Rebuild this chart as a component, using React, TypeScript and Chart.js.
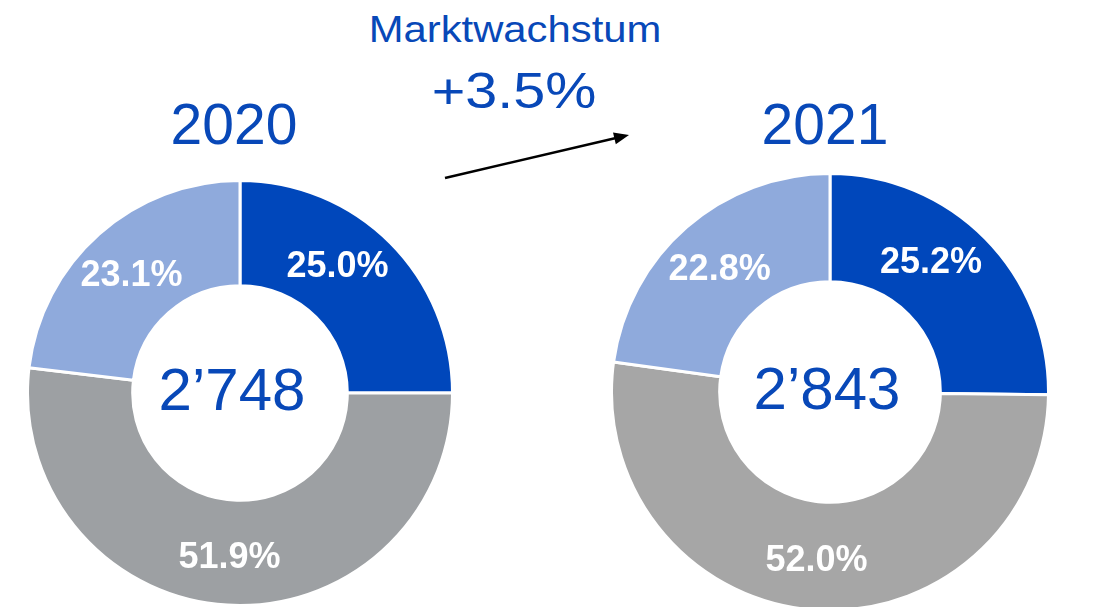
import React, { useEffect, useRef } from "react";
import { Chart, registerables } from "chart.js";

Chart.register(...registerables);

const segmentLabels = ["Segment A", "Segment B", "Segment C"];
const values2020 = [25.0, 51.9, 23.1];
const values2021 = [25.2, 52.0, 22.8];
const totals = ["2’748", "2’843"];
const years = ["2020", "2021"];
const growthTitle = "Marktwachstum";
const growthValue = "+3.5%";

const BLUE_TEXT = "#0848B8";
const FONT = "'Liberation Sans', Arial, Helvetica, sans-serif";

const labelPlugin = {
  id: "sliceLabels",
  afterDatasetsDraw(chart: any, _args: any, opts: any) {
    const ctx = chart.ctx;
    const meta = chart.getDatasetMeta(0);
    const data = chart.data.datasets[0].data as number[];
    ctx.save();
    meta.data.forEach((arc: any, i: number) => {
      const p = arc.getProps(["x", "y", "startAngle", "endAngle", "innerRadius", "outerRadius"], true);
      const shift = ((opts.angleShift?.[i] ?? 0) * Math.PI) / 180;
      const a = (p.startAngle + p.endAngle) / 2 + shift;
      const r = (p.innerRadius + p.outerRadius) / 2 + 2;
      const x = p.x + Math.cos(a) * r;
      const y = p.y + Math.sin(a) * r;
      ctx.fillStyle = "#ffffff";
      ctx.font = `bold 36px ${FONT}`;
      ctx.textAlign = "center";
      ctx.textBaseline = "alphabetic";
      ctx.fillText(data[i].toFixed(1) + "%", x, y + 13);
    });
    const arc0 = meta.data[0] as any;
    if (arc0) {
      ctx.fillStyle = BLUE_TEXT;
      ctx.font = `60px ${FONT}`;
      ctx.textAlign = "center";
      ctx.fillText(opts.centerText, arc0.x + (opts.centerDx ?? 0), arc0.y + 17);
    }
    ctx.restore();
  },
};

function Donut(props: {
  values: number[];
  colors: string[];
  centerText: string;
  centerDx: number;
  left: number;
  top: number;
  size: number;
}) {
  const ref = useRef<HTMLCanvasElement>(null);
  useEffect(() => {
    if (!ref.current) return;
    const chart = new Chart(ref.current, {
      type: "doughnut",
      data: {
        labels: segmentLabels,
        datasets: [
          {
            data: props.values,
            backgroundColor: props.colors,
            borderColor: "#ffffff",
            borderWidth: 3,
          },
        ],
      },
      options: {
        animation: false,
        responsive: false,
        maintainAspectRatio: false,
        cutout: "50.5%",
        rotation: 0,
        layout: { padding: 0 },
        plugins: {
          legend: { display: false },
          tooltip: { enabled: false },
          sliceLabels: {
            angleShift: [-8, 0.3, -0.5],
            centerText: props.centerText,
            centerDx: props.centerDx,
          },
        } as any,
      },
      plugins: [labelPlugin],
    });
    return () => chart.destroy();
  }, []);
  return (
    <canvas
      ref={ref}
      width={props.size}
      height={props.size}
      style={{ position: "absolute", left: props.left, top: props.top, width: props.size, height: props.size }}
    />
  );
}

function TextAt(props: { text: string; cx: number; baseline: number; size: number; scaleX?: number }) {
  const top = props.baseline - 0.8465 * props.size;
  return (
    <div
      style={{
        position: "absolute",
        left: props.cx - 300,
        width: 600,
        top,
        textAlign: "center",
        fontFamily: FONT,
        fontSize: props.size,
        lineHeight: `${props.size}px`,
        color: BLUE_TEXT,
        whiteSpace: "nowrap",
        transform: `scaleX(${props.scaleX ?? 1})`,
      }}
    >
      {props.text}
    </div>
  );
}

export default function App() {
  return (
    <div
      style={{
        position: "absolute",
        left: 0,
        top: 0,
        width: 1099,
        height: 607,
        overflow: "hidden",
        background: "#ffffff",
      }}
    >
      <Donut
        values={values2020}
        colors={["#0047BB", "#9DA0A3", "#8FAADC"]}
        centerText={totals[0]}
        centerDx={-8}
        left={26}
        top={179}
        size={428}
      />
      <Donut
        values={values2021}
        colors={["#0047BB", "#A6A6A6", "#8FAADC"]}
        centerText={totals[1]}
        centerDx={-3}
        left={610}
        top={172}
        size={440}
      />
      <TextAt text={years[0]} cx={234} baseline={144} size={57} />
      <TextAt text={years[1]} cx={825} baseline={144} size={57} />
      <TextAt text={growthTitle} cx={515} baseline={42} size={37} scaleX={1.13} />
      <TextAt text={growthValue} cx={514} baseline={108} size={50} scaleX={1.15} />
      <svg width={1099} height={607} style={{ position: "absolute", left: 0, top: 0, pointerEvents: "none" }}>
        <line x1={445} y1={178} x2={616} y2={138} stroke="#000" strokeWidth={2.5} />
        <polygon points="629,135 615.8,144.2 613.0,132.6" fill="#000" />
      </svg>
    </div>
  );
}
